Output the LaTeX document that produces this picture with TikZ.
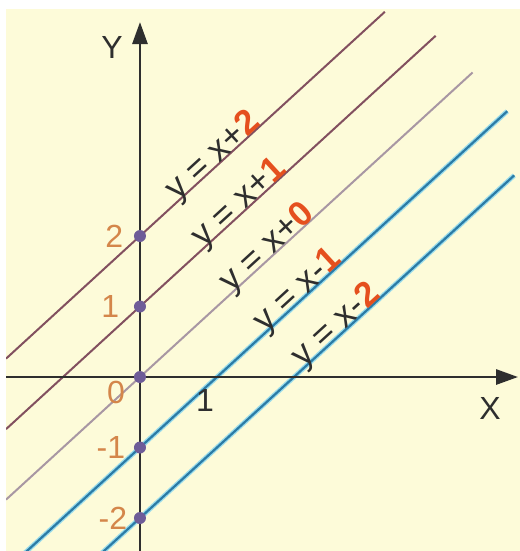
\documentclass[tikz,border=0pt]{standalone}
\usepackage{fontspec}
\setmainfont{Liberation Sans}
\usepackage{tikz}
\usetikzlibrary{arrows.meta,positioning}

\definecolor{paper}{HTML}{FDFBD9}
\definecolor{maroonline}{HTML}{82505F}
\definecolor{greyline}{HTML}{A897A3}
\definecolor{blueline}{HTML}{2B7BA6}
\definecolor{glow}{HTML}{9ADCEB}
\definecolor{dotpurple}{HTML}{6E5C98}
\definecolor{numorange}{HTML}{D4864A}
\definecolor{numred}{HTML}{E5501E}
\definecolor{ink}{HTML}{2E2E2E}

\newcommand{\rednum}[1]{\textcolor{numred}{\textbf{#1}}}

\begin{document}
\begin{tikzpicture}[
    x=38.5pt, y=35.25pt,
    axis/.style={line width=1.4pt, draw=ink, -{Triangle[length=11pt,width=7.5pt]}},
    upperline/.style={line width=1pt, draw=maroonline},
    midline/.style={line width=1pt, draw=greyline},
    glowline/.style={line width=2.4pt, draw=glow},
    lowerline/.style={line width=1.1pt, draw=blueline},
    dot/.style={circle, fill=dotpurple, inner sep=0pt, minimum size=6pt},
    eqlabel/.style={anchor=base west, rotate=42.5, inner sep=0pt,
        font=\fontsize{17.5}{19}\selectfont, text=ink},
    axnum/.style={inner sep=0pt, font=\fontsize{16}{18}\selectfont, text=numorange},
    axname/.style={inner sep=0pt, font=\fontsize{16}{18}\selectfont, text=ink}
]
% page and paper
\useasboundingbox (-1.818,-2.468) rectangle (4.935,5.348);
\fill[white] (-1.818,-2.468) rectangle (4.935,5.348);
\fill[paper] (-1.74,-2.468) rectangle (4.935,5.22);

% the five lines
\begin{scope}
\clip (-1.74,-2.468) rectangle (4.935,5.22);
\draw[upperline] (-1.74,0.26) -- (3.18,5.18);
\draw[upperline] (-1.74,-0.74) -- (3.84,4.84);
\draw[midline] (-1.74,-1.74) -- (4.32,4.32);
\draw[glowline] (-1.55,-2.55) -- (4.77,3.77);
\draw[lowerline] (-1.55,-2.55) -- (4.77,3.77);
\draw[glowline] (-0.55,-2.55) -- (4.86,2.86);
\draw[lowerline] (-0.55,-2.55) -- (4.86,2.86);
\end{scope}

% axes
\coordinate (xstart) at (-1.74,0);
\coordinate (xend) at (4.91,0);
\coordinate (ystart) at (0,-2.468);
\coordinate (yend) at (0,5.035);
\draw[axis] (xstart) -- (xend);
\draw[axis] (ystart) -- (yend);
\node[axname] (ylab) at (-0.364,4.68) {Y};
\node[axname] (xlab) at (4.545,-0.44) {X};

% points on the y axis
\node[dot] (p2) at (0,2) {};
\node[dot] (p1) at (0,1) {};
\node[dot] (p0) at (0,0) {};
\node[dot] (pm1) at (0,-1) {};
\node[dot] (pm2) at (0,-2) {};

\node[axnum, left=5pt of p2] (n2) {2};
\node[axnum, left=7pt of p1] (n1) {1};
\node[axnum, anchor=north east] (n0) at (-0.19,-0.06) {0};
\node[axnum, left=4pt of pm1] (nm1) {-1};
\node[axnum, left=3pt of pm2] (nm2) {-2};
\node[axname] (x1) at (0.844,-0.33) {1};

% equations
\node[eqlabel] (eq2) at (0.48,2.48) {y = x+\rednum{2}};
\node[eqlabel] (eq1) at (0.82,1.82) {y = x+\rednum{1}};
\node[eqlabel] (eq0) at (1.18,1.18) {y = x+\rednum{0}};
\node[eqlabel] (eqm1) at (1.62,0.62) {y = x-\rednum{1}};
\node[eqlabel] (eqm2) at (2.12,0.12) {y = x-\rednum{2}};
\end{tikzpicture}
\end{document}
